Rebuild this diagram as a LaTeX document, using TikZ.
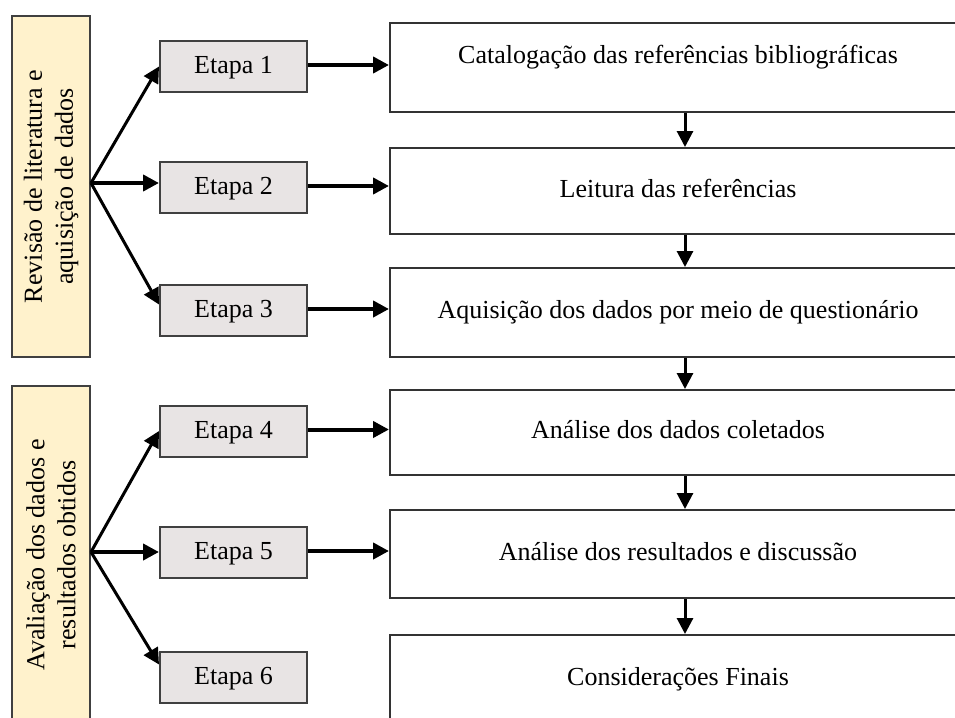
\documentclass[tikz,border=0pt]{standalone}
\usepackage{fontspec}
\setmainfont{Liberation Serif}
\usetikzlibrary{arrows.meta, positioning}
\definecolor{fundo}{HTML}{FFF2CC}
\definecolor{cinza}{HTML}{E8E4E4}

\begin{document}
\begin{tikzpicture}[x=1pt, y=-1pt, >={Triangle[length=16pt,width=16pt]},
    font=\fontsize{26}{31}\selectfont]
    \tikzstyle{side}=[draw=black!75, line width=2pt, fill=fundo, rotate=90, align=center, minimum height=78pt, inner sep=0pt]
    \tikzstyle{etapa}=[draw=black!75, line width=2pt, fill=cinza, minimum width=147pt, minimum height=51pt, inner sep=0pt, text height=18pt, text depth=4pt]
    \tikzstyle{caixa}=[draw=black!80, line width=2pt, fill=white, minimum width=576pt, inner sep=0pt, text height=18pt, text depth=6pt]
    \tikzstyle{fan}=[->, line width=3pt]
    \tikzstyle{seta}=[->, line width=4pt]

    \useasboundingbox (0,0) rectangle (955,717);
    \clip (0,0) rectangle (955,717);

    % grupos (rotacionados: o lado south fica a direita)
    \node[side, minimum width=341pt] (S1) at (51,186.5) {Revisão de literatura e\\ aquisição de dados};
    \node[side, minimum width=338pt] (S2) at (51,555) {Avaliação dos dados e\\ resultados obtidos};

    % etapas
    \node[etapa] (E1) at (233.5,66.5) {Etapa 1};
    \node[etapa] (E2) at (233.5,187.5) {Etapa 2};
    \node[etapa] (E3) at (233.5,310.5) {Etapa 3};
    \node[etapa] (E4) at (233.5,431) {Etapa 4};
    \node[etapa] (E5) at (233.5,552.5) {Etapa 5};
    \node[etapa] (E6) at (233.5,677.5) {Etapa 6};

    % atividades
    \node[caixa, minimum height=89pt, text depth=26pt] (R1) at (678,67.5) {Catalogação das referências bibliográficas};
    \node[caixa, minimum height=86pt] (R2) at (678,191) {Leitura das referências};
    \node[caixa, minimum height=89pt] (R3) at (678,312.5) {Aquisição dos dados por meio de questionário};
    \node[caixa, minimum height=85pt] (R4) at (678,432.5) {Análise dos dados coletados};
    \node[caixa, minimum height=88pt] (R5) at (678,554) {Análise dos resultados e discussão};
    \node[caixa, minimum height=88pt] (R6) at (678,679) {Considerações Finais};

    \coordinate (F1) at ([yshift=3.5pt]S1.south);
    \coordinate (F2) at ([yshift=3pt]S2.south);

    % leques
    \draw[fan] (F1) -- (E1.west);
    \draw[seta] (F1) -- (F1 -| E2.west);
    \draw[fan] (F1) -- ([yshift=6pt]E3.west);
    \draw[fan] (F2) -- (E4.west);
    \draw[seta] (F2) -- (F2 -| E5.west);
    \draw[fan] (F2) -- ([yshift=13pt]E6.west);

    % etapa -> atividade
    \foreach \i in {1,...,5}
        \draw[seta] ([yshift=1.5pt]E\i.east) -- ([yshift=1.5pt]E\i.east -| R\i.west);

    % sequencia
    \foreach \i/\j in {1/2,2/3,3/4,4/5,5/6}
        \draw[fan] ([xshift=7pt]R\i.south) -- ([xshift=7pt]R\j.north);
\end{tikzpicture}
\end{document}
